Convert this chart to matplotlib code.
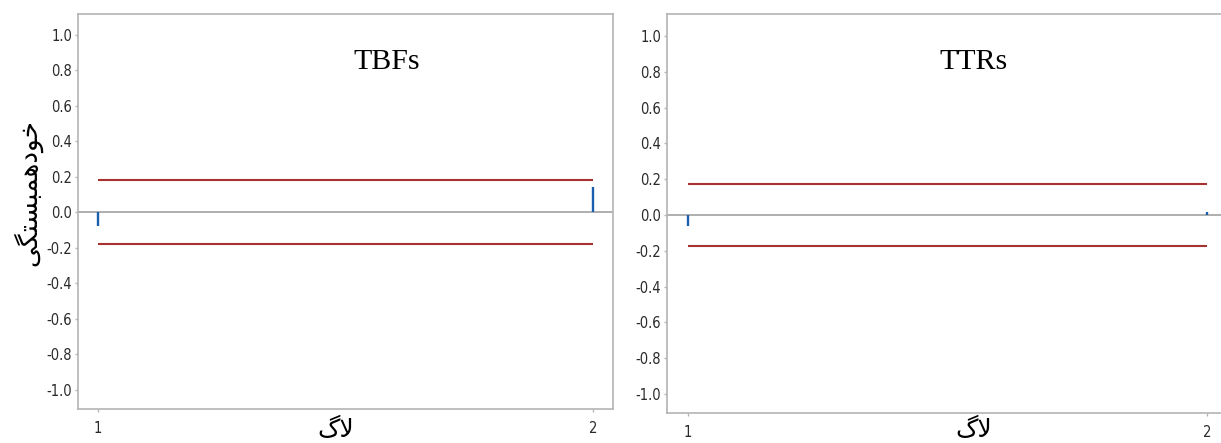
import matplotlib
matplotlib.use('Agg')
import matplotlib.pyplot as plt

# داده ها
lags = [1, 2]
acf_tbf = [-0.08, 0.14]
acf_ttr = [-0.06, 0.015]
limit_tbf = 0.181
limit_ttr = 0.173
yticks = [-1.0, -0.8, -0.6, -0.4, -0.2, 0.0, 0.2, 0.4, 0.6, 0.8, 1.0]

# متن فارسی به صورت شکل های نمایشی (matplotlib حروف را وصل نمی کند)
ylabel_fa = '\uFBFD\uFB95\uFE98\uFEB4\uFE92\uFEE4\uFEEB\uFEA9\uFEEE\uFEA7'   # خودهمبستگی
xlabel_fa = '\u06AF\uFEFB'   # لاگ

W, H = 1221, 443
fig = plt.figure(figsize=(W / 100, H / 100), dpi=100)

spine_c = '#b4b4b4'
bar_c = '#1a5fad'
red_c = '#a83232'


def panel(rect, acf, lim, title, title_x, ylim):
    ax = fig.add_axes(rect)
    ax.set_xlim(0.961, 2.04)
    ax.set_ylim(*ylim)
    ax.axhline(0, color='#a8a8a8', lw=1.3, zorder=1)
    ax.hlines([lim, -lim], lags[0], lags[-1], color=red_c, lw=1.5, zorder=2)
    ax.vlines(lags, 0, acf, color=bar_c, lw=1.7, zorder=3)
    ax.set_xticks(lags)
    ax.set_yticks(yticks)
    ax.set_yticklabels([f'{v:.1f}' for v in yticks])
    for s in ax.spines.values():
        s.set_color(spine_c)
        s.set_linewidth(1.2)
    ax.tick_params(axis='both', colors='#b4b4b4', labelcolor='#2a2a2a',
                   length=2.5, width=1.0, labelsize=10.5)
    ax.tick_params(axis='x', pad=6)
    ax.tick_params(axis='y', pad=2)
    for lab in ax.get_xticklabels() + ax.get_yticklabels():
        lab.set_family('DejaVu Sans')
        lab.set_stretch('condensed')
    ax.text(title_x, 0.88, title, transform=ax.transAxes, ha='center',
            va='center', fontsize=21.5, family=['Liberation Serif', 'DejaVu Serif'])
    return ax


ax1 = panel([78.3 / W, 1 - 409 / H, (613 - 78.3) / W, (409 - 14.3) / H],
            acf_tbf, limit_tbf, 'TBFs', 0.577, (-1.108, 1.115))
ax2 = panel([667.3 / W, 1 - 413.3 / H, 560.5 / W, (413.3 - 14.3) / H],
            acf_ttr, limit_ttr, 'TTRs', 0.547, (-1.108, 1.121))

fig.text(28 / W, 1 - 193 / H, ylabel_fa, rotation=90, ha='center', va='center',
         fontsize=19, family='DejaVu Sans')
fig.text(336 / W, 1 - 418 / H, xlabel_fa, ha='center', va='top',
         fontsize=18, family='DejaVu Sans')
fig.text(974 / W, 1 - 418 / H, xlabel_fa, ha='center', va='top',
         fontsize=18, family='DejaVu Sans')

fig.savefig('out.png', dpi=100)
